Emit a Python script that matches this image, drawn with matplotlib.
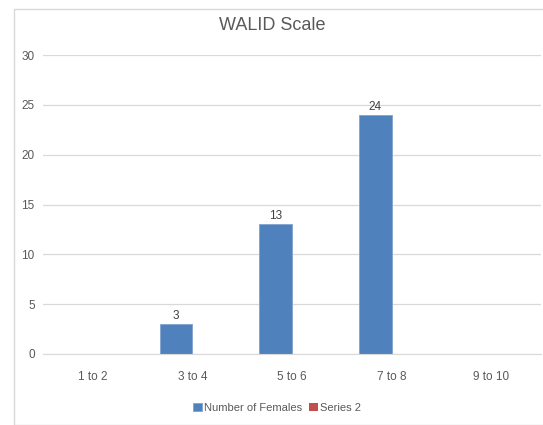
import matplotlib.pyplot as plt
import numpy as np
from matplotlib.patches import Rectangle
from matplotlib import font_manager

names = {f.name for f in font_manager.fontManager.ttflist}
narrow = [n for n in ['Liberation Sans Narrow', 'DejaVu Sans Condensed'] if n in names]
plt.rcParams['font.family'] = narrow + ['Liberation Sans', 'DejaVu Sans']

categories = ["1 to 2", "3 to 4", "5 to 6", "7 to 8", "9 to 10"]
females = [0, 3, 13, 24, 0]
series2 = [0, 0, 0, 0, 0]

fig = plt.figure(figsize=(5.43, 4.25), dpi=100)
ax = fig.add_axes([43 / 543, 1 - 354 / 425, 498 / 543, 299 / 425])

# outer chart frame
fig.patches.append(Rectangle((14 / 543, 0), 1, 1 - 9 / 425, transform=fig.transFigure,
                             fill=False, edgecolor="#d9d9d9", linewidth=1))

x = np.arange(len(categories))
w = 0.33
bars = ax.bar(x - w / 2, females, w, color="#4f81bd", label="Number of Females",
              edgecolor="#7fa3d1", linewidth=0.6)
ax.bar(x + w / 2, series2, w, color="#c0504d", label="Series 2")

for b, v in zip(bars, females):
    if v > 0:
        ax.text(b.get_x() + b.get_width() / 2, v + 0.2, str(v), ha="center", va="bottom",
                fontsize=8.5, color="#404040")

ax.set_xlim(-0.5, len(categories) - 0.5)
ax.set_ylim(0, 30)
ax.set_yticks(range(0, 31, 5))
ax.set_xticks(x)
ax.set_xticklabels(categories)
ax.tick_params(length=0, labelsize=8.5, colors="#595959")
ax.tick_params(axis="x", pad=12)
ax.tick_params(axis="y", pad=6)
ax.yaxis.grid(True, color="#d9d9d9", linewidth=0.9)
ax.set_axisbelow(True)
for s in ["top", "right", "left"]:
    ax.spines[s].set_visible(False)
ax.spines["bottom"].set_color("#d9d9d9")

fig.text(272 / 543, 1 - 26 / 425, "WALID Scale", ha="center", va="center",
         fontsize=13, color="#595959")

fig.legend(loc="center", bbox_to_anchor=(277 / 543, 1 - 408 / 425), ncol=2, frameon=False,
           fontsize=8, handlelength=0.8, handleheight=0.8, handletextpad=0.2,
           columnspacing=0.6, labelcolor="#595959")

fig.savefig("out.png", dpi=100)
